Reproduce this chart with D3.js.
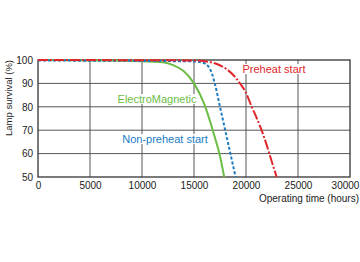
<!DOCTYPE html>
<meta charset="utf-8">
<script src="https://d3js.org/d3.v7.min.js"></script>
<style>
  body { margin: 0; background: #fff; }
  text { font-family: "Liberation Sans", Arial, sans-serif; }
</style>
<div id="chart"></div>
<script>

// data
var xTicks = [0, 5000, 10000, 15000, 20000, 25000, 30000]
var yTicks = [50, 60, 70, 80, 90, 100]

var emHours  = [0, 5000, 10000, 12000, 13000, 14000, 15000, 16000, 17000, 17500, 17900]
var emValues = [100, 99.8, 99.5, 99, 97.8, 95.3, 90, 81, 67, 59, 50]

var npHours  = [0, 5000, 10000, 15000, 16000, 16700, 17000, 17500, 18000, 18500, 19000]
var npValues = [99.8, 99.7, 99.6, 99.4, 98.6, 94.5, 90, 80, 70, 60, 50]

var phHours  = [0, 10000, 15000, 16000, 17000, 18000, 19000, 19420, 20000, 20550, 21000, 21500, 22000, 22240, 22950]
var phValues = [100, 99.9, 99.8, 99.5, 98.6, 96.5, 92.5, 90, 86, 80, 75.5, 70, 63.5, 60, 50]

var series = [
  {name: "ElectroMagnetic", hours: emHours, values: emValues, color: "#6cbd45", dash: null, lx: 157, ly: 103},
  {name: "Non-preheat start", hours: npHours, values: npValues, color: "#1b7cc4", dash: "3,2", lx: 165, ly: 143},
  {name: "Preheat start", hours: phHours, values: phValues, color: "#e0262b", dash: "10,2,2,2", lx: 274, ly: 73}
]

var margin = {top: 60, left: 38},
  width = 312,
  height = 117;

var svg = d3.select("#chart")
.append("svg")
  .attr("width", 360)
  .attr("height", 262)
.append("g")
  .attr("transform", "translate(" + margin.left + "," + margin.top + ")");

var x = d3.scaleLinear().domain([0, 30000]).range([0, width])
var y = d3.scaleLinear().domain([50, 100]).range([height, 0])

// grid
svg.append("g")
  .selectAll("line")
  .data(xTicks.slice(1, -1))
  .enter().append("line")
    .attr("x1", function(d){ return x(d) })
    .attr("x2", function(d){ return x(d) })
    .attr("y1", 0)
    .attr("y2", height)
    .attr("stroke", "#555")
    .attr("stroke-width", 1)

svg.append("g")
  .selectAll("line")
  .data(yTicks.slice(1, -1))
  .enter().append("line")
    .attr("x1", 0)
    .attr("x2", width)
    .attr("y1", function(d){ return y(d) })
    .attr("y2", function(d){ return y(d) })
    .attr("stroke", "#555")
    .attr("stroke-width", 1)

// frame
svg.append("rect")
  .attr("x", 0)
  .attr("y", 0)
  .attr("width", width)
  .attr("height", height)
  .attr("fill", "none")
  .attr("stroke", "#333")
  .attr("stroke-width", 1.3)

// axes
var xAxis = svg.append("g")
  .attr("transform", "translate(0," + height + ")")
  .call(d3.axisBottom(x).tickValues(xTicks).tickSize(0).tickPadding(5).tickFormat(d3.format("d")))
xAxis.select(".domain").remove()
xAxis.selectAll("text").attr("font-size", 10).attr("fill", "#222")
// last label sits flush with the right edge
xAxis.selectAll("text").filter(function(d){ return d === 30000 }).attr("dx", -5)

var yAxis = svg.append("g")
  .call(d3.axisLeft(y).tickValues(yTicks).tickSize(0).tickPadding(5))
yAxis.select(".domain").remove()
yAxis.selectAll("text").attr("font-size", 10).attr("fill", "#222")

// curves
var line = d3.line()
  .x(function(d){ return x(d[0]) })
  .y(function(d){ return y(d[1]) })
  .curve(d3.curveMonotoneX)

series.forEach(function(s) {
  var pts = s.hours.map(function(h, i){ return [h, s.values[i]] })
  svg.append("path")
    .datum(pts)
    .attr("d", line)
    .attr("fill", "none")
    .attr("stroke", s.color)
    .attr("stroke-width", 2)
    .attr("stroke-dasharray", s.dash)
})

// series labels with white backing
series.forEach(function(s) {
  var t = svg.append("text")
    .attr("x", s.lx - margin.left)
    .attr("y", s.ly - margin.top)
    .attr("text-anchor", "middle")
    .attr("font-size", 11)
    .attr("fill", s.color)
    .text(s.name)
  var b = t.node().getBBox()
  svg.insert("rect", function(){ return t.node() })
    .attr("x", b.x - 1)
    .attr("y", b.y + 1)
    .attr("width", b.width + 2)
    .attr("height", b.height - 2)
    .attr("fill", "#fff")
})

// axis titles
svg.append("text")
  .attr("transform", "translate(" + (12 - margin.left) + "," + (98 - margin.top) + ") rotate(-90)")
  .attr("text-anchor", "middle")
  .attr("font-size", 9.5)
  .attr("fill", "#222")
  .text("Lamp survival  (%)")

svg.append("text")
  .attr("x", 359 - margin.left)
  .attr("y", 202 - margin.top)
  .attr("text-anchor", "end")
  .attr("font-size", 10)
  .attr("fill", "#222")
  .text("Operating time (hours)")

</script>
